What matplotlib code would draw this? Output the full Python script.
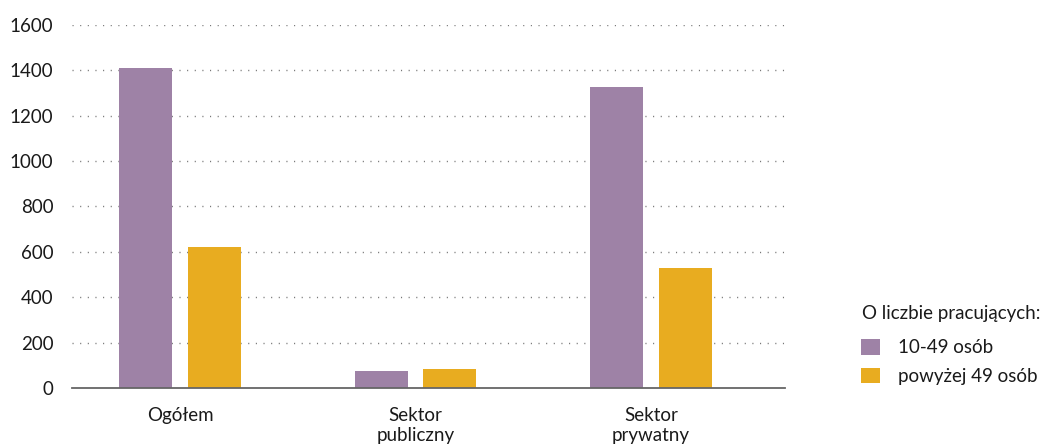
import numpy as np
import matplotlib.pyplot as plt

# dane
kategorie = ["Ogółem", "Sektor\npubliczny", "Sektor\nprywatny"]
male = [1412, 75, 1327]        # 10-49 osób
duze = [622, 83, 530]          # powyżej 49 osób
etykiety = ["10-49 osób", "powyżej 49 osób"]
yticks = [0, 200, 400, 600, 800, 1000, 1200, 1400, 1600]

kolor_fiolet = "#9E82A6"
kolor_zolty = "#E8AC20"
kolor_tekst = "#1a1a1a"
fs = 13.5

plt.rcParams['font.family'] = ['Lato', 'DejaVu Sans']

fig = plt.figure(figsize=(10.53, 4.46), dpi=100)
ax = fig.add_axes([0.0684, 0.130, 0.677, 0.814])

x = np.arange(len(kategorie))
w = 0.225
d = 0.145
ax.bar(x - d, male, width=w, color=kolor_fiolet, label=etykiety[0], zorder=2)
ax.bar(x + d, duze, width=w, color=kolor_zolty, label=etykiety[1], zorder=2)

ax.set_ylim(0, 1600)
ax.set_xlim(-0.459, 2.569)
ax.set_yticks(yticks)
ax.set_xticks(x)
ax.set_xticklabels(kategorie, fontsize=fs, color=kolor_tekst, linespacing=1.2)
ax.tick_params(axis='y', labelsize=fs, colors=kolor_tekst, length=0, pad=13.5)
ax.tick_params(axis='x', length=0, pad=14)

for v in yticks[1:]:
    ax.axhline(v, color="#777777", lw=1.0, ls=(0, (0.8, 4.7)), zorder=1)

for s in ["top", "right", "left"]:
    ax.spines[s].set_visible(False)
ax.spines["bottom"].set_color("#666666")
ax.spines["bottom"].set_linewidth(1.3)
ax.spines["bottom"].set_zorder(3)

# legenda
fig.text(0.8187, 1 - 313 / 446, "O liczbie pracujących:", fontsize=fs,
         color=kolor_tekst, ha="left", va="center")
leg = fig.legend(loc="upper left", bbox_to_anchor=(0.8177, 1 - 339 / 446),
                 frameon=False, fontsize=fs, borderpad=0, borderaxespad=0,
                 handlelength=1.0, handleheight=0.9, handletextpad=0.95,
                 labelspacing=0.6)
for t in leg.get_texts():
    t.set_color(kolor_tekst)

fig.savefig("out.png", dpi=100)
